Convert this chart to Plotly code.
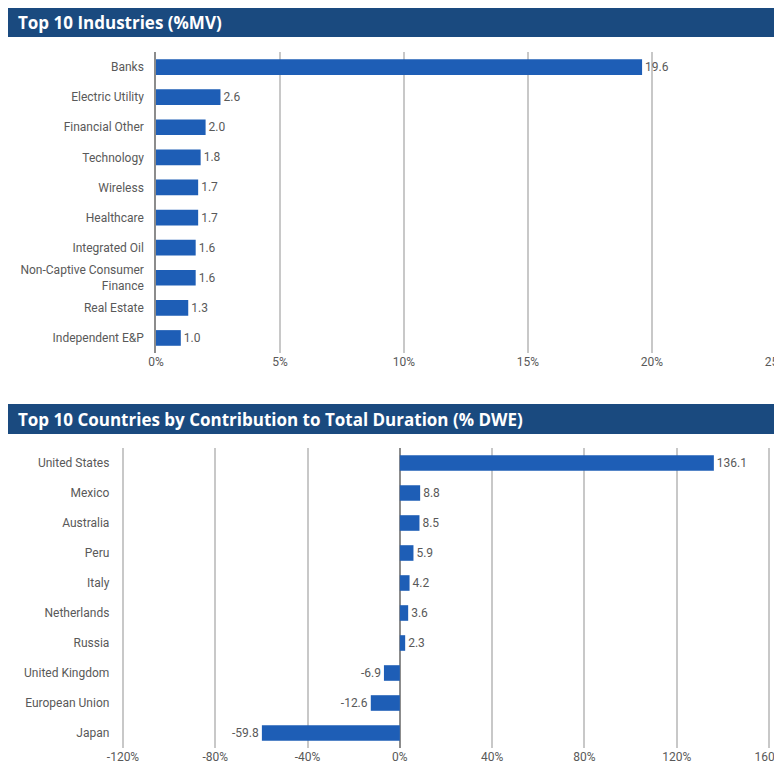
import plotly.graph_objects as go

# page body has an 8px margin; fit the figure inside the 782x773 window
OFF = 8
W, H = 782 - OFF, 773 - OFF

industries = ["Banks", "Electric Utility", "Financial Other", "Technology", "Wireless",
              "Healthcare", "Integrated Oil", "Non-Captive Consumer<br>Finance",
              "Real Estate", "Independent E&P"]
industry_mv = [19.6, 2.6, 2.0, 1.8, 1.7, 1.7, 1.6, 1.6, 1.3, 1.0]
industry_ticks = [0, 5, 10, 15, 20, 25]
industry_ticklabels = ["0%", "5%", "10%", "15%", "20%", "25%"]

countries = ["United States", "Mexico", "Australia", "Peru", "Italy", "Netherlands",
             "Russia", "United Kingdom", "European Union", "Japan"]
country_dwe = [136.1, 8.8, 8.5, 5.9, 4.2, 3.6, 2.3, -6.9, -12.6, -59.8]
country_ticks = [-120, -80, -40, 0, 40, 80, 120, 160]
country_ticklabels = ["-120%", "-80%", "-40%", "0%", "40%", "80%", "120%", "160%"]

title_top = "Top 10 Industries (%MV)"
title_bottom = "Top 10 Countries by Contribution to Total Duration (% DWE)"

BAR = "#1e5eb6"
HEAD = "#1a4a7f"
TXT = "#595959"
GRID = "#c8c8c8"
AXIS = "#8c8c8c"
FONT = "Roboto"
TITLE_FONT = "Open Sans"


def px_y(y):
    return 1 - (y - OFF) / H


def px_x(x):
    return (x - OFF) / W


# top axis: 0 at x=156px, 25 at x=776px; pad the range so the edge grid line shows
t0, t1 = 156, 776
tpad = 0.2
tscale = (t1 - t0) / 25
# bottom axis: -120 at x=123px, 160 at x=769px
b0, b1 = 123, 769
bpad = 2.0
bscale = (b1 - b0) / 280

fig = go.Figure()

fig.add_trace(go.Bar(
    x=industry_mv, y=industries, orientation="h",
    marker=dict(color=BAR, line=dict(width=0)),
    text=[f"{v:.1f}" for v in industry_mv], textposition="outside",
    textfont=dict(color=TXT, size=12, family=FONT),
    cliponaxis=False, xaxis="x", yaxis="y", hoverinfo="skip",
))

fig.add_trace(go.Bar(
    x=country_dwe, y=countries, orientation="h",
    marker=dict(color=BAR, line=dict(width=0)),
    text=[f"{v:.1f}" for v in country_dwe], textposition="outside",
    textfont=dict(color=TXT, size=12, family=FONT),
    cliponaxis=False, xaxis="x2", yaxis="y2", hoverinfo="skip",
))

# edge grid lines (same style as the regular grid)
edge_shapes = []
for xv in [industry_ticks[-1]]:
    edge_shapes.append(dict(type="line", xref="x", yref="y domain", x0=xv, x1=xv,
                            y0=0, y1=1, line=dict(color=GRID, width=1.5), layer="below"))
for xv in [country_ticks[0], country_ticks[-1]]:
    edge_shapes.append(dict(type="line", xref="x2", yref="y2 domain", x0=xv, x1=xv,
                            y0=0, y1=1, line=dict(color=GRID, width=1.5), layer="below"))

fig.update_layout(
    width=W, height=H, autosize=False,
    margin=dict(l=0, r=0, t=0, b=0, pad=0),
    paper_bgcolor="white", plot_bgcolor="white",
    showlegend=False,
    bargap=0.48,
    font=dict(family=FONT, size=12, color=TXT),
    xaxis=dict(
        domain=[px_x(t0), px_x(t1 + tpad * tscale)], range=[0, 25 + tpad],
        tickvals=industry_ticks, ticktext=industry_ticklabels,
        showgrid=True, gridcolor=GRID, gridwidth=1.5,
        zeroline=False, showline=False, ticks="",
        tickfont=dict(size=12, color=TXT, family=FONT),
        ticklabeloverflow="allow",
        anchor="y", automargin=False,
    ),
    yaxis=dict(
        domain=[px_y(353), px_y(52)],
        categoryorder="array", categoryarray=industries[::-1],
        showgrid=False, zeroline=False,
        showline=True, linecolor=AXIS, linewidth=1.5,
        ticks="", ticklabelstandoff=8,
        tickfont=dict(size=12, color=TXT, family=FONT),
        anchor="x", automargin=False,
    ),
    xaxis2=dict(
        domain=[px_x(b0 - bpad * bscale), px_x(b1 + bpad * bscale)],
        range=[-120 - bpad, 160 + bpad],
        tickvals=country_ticks, ticktext=country_ticklabels,
        showgrid=True, gridcolor=GRID, gridwidth=1.5,
        zeroline=True, zerolinecolor=AXIS, zerolinewidth=1.5,
        showline=False, ticks="",
        tickfont=dict(size=12, color=TXT, family=FONT),
        ticklabeloverflow="allow",
        anchor="y2", automargin=False,
    ),
    yaxis2=dict(
        domain=[px_y(748), px_y(448)],
        categoryorder="array", categoryarray=countries[::-1],
        showgrid=False, zeroline=False, showline=False,
        ticks="", ticklabelstandoff=8,
        tickfont=dict(size=12, color=TXT, family=FONT),
        anchor="x2", automargin=False,
    ),
    shapes=[
        dict(type="rect", xref="paper", yref="paper",
             x0=px_x(5), x1=1, y0=px_y(37), y1=px_y(7),
             fillcolor=HEAD, line=dict(width=0), layer="below"),
        dict(type="rect", xref="paper", yref="paper",
             x0=px_x(5), x1=1, y0=px_y(434), y1=px_y(404),
             fillcolor=HEAD, line=dict(width=0), layer="below"),
    ] + edge_shapes,
    annotations=[
        dict(text=f"<b>{title_top}</b>", xref="paper", yref="paper",
             x=px_x(16), y=px_y(22), xanchor="left", yanchor="middle",
             showarrow=False, font=dict(color="white", size=17, family=TITLE_FONT)),
        dict(text=f"<b>{title_bottom}</b>", xref="paper", yref="paper",
             x=px_x(16), y=px_y(419), xanchor="left", yanchor="middle",
             showarrow=False, font=dict(color="white", size=17, family=TITLE_FONT)),
    ],
)

fig.write_html("out.html")
